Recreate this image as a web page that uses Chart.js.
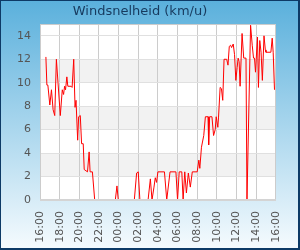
<!DOCTYPE html>
<html lang="nl">
<head>
  <meta charset="UTF-8" />
  <title>Windsnelheid</title>
  <script src="https://cdn.jsdelivr.net/npm/chart.js"></script>
  <style>
    * { box-sizing: border-box; }
    html, body { margin: 0; padding: 0; }
    #wrap {
      position: relative;
      width: 300px;
      height: 250px;
      overflow: hidden;
      background: linear-gradient(#5ab0dc, #f6fbfe);
    }
    #wrap canvas { position: absolute; top: 0; left: 0; }
    #rand {
      position: absolute; top: 0; left: 0; width: 300px; height: 250px;
      border: 1px solid #0d3a66; border-right-width: 2px; border-bottom-width: 2px;
      pointer-events: none;
    }
  </style>
</head>
<body>
  <div id="wrap">
    <canvas id="grafiek" width="300" height="250"></canvas>
    <div id="rand"></div>
  </div>

  <script>
    // tijdstippen (16:00 -> 16:00 volgende dag) en windsnelheid in km/u
    const tijden = [
      "16:36","16:42","16:48","17:00","17:10","17:20","17:30","17:40","17:50","18:04",
      "18:16","18:24","18:30","18:36","18:44","18:50","19:10","19:16","19:26","19:34",
      "19:40","19:50","19:56","20:06","20:14","20:24","20:30","20:50","21:00","21:06",
      "21:20","21:34","23:40","23:50","23:58","01:36","01:50","02:00","02:10","03:00",
      "03:14","03:24","03:36","03:44","03:52","04:00","04:40","04:54","05:14","05:50",
      "06:00","06:10","06:26","06:34","06:44","06:54","07:06","07:18","07:30","08:00",
      "08:10","08:16","08:26","08:40","08:50","09:06","09:10","09:16","09:30","09:40",
      "09:50","09:56","10:06","10:10","10:20","10:28","10:36","10:44","11:00","11:08",
      "11:16","11:24","11:30","11:40","11:48","11:56","12:04","12:10","12:16","12:22",
      "12:34","12:44","12:58","13:04","13:26","13:36","13:44","13:50","13:56","14:08",
      "14:14","14:22","14:30","14:38","14:48","14:56","15:00","15:30","15:38","15:44",
      "15:52"
    ];
    const snelheid = [
      12.2, 9.8, 9.8, 8.1, 9.4, 7.7, 7.2, 12.0, 10.0, 7.2,
      9.4, 9.0, 9.7, 9.4, 10.5, 9.7, 9.7, 9.6, 12.0, 7.9,
      8.5, 5.1, 7.1, 7.2, 4.8, 4.8, 2.6, 2.4, 4.1, 2.4,
      2.4, 0, 0, 1.2, 0, 0, 2.3, 2.4, 0, 0,
      1.8, 0, 1.1, 1.9, 1.5, 2.4, 2.4, 0, 2.4, 2.4,
      0, 2.4, 2.4, 0, 2.4, 0.6, 2.3, 1.1, 2.4, 2.4,
      3.4, 2.7, 4.5, 5.5, 7.1, 7.1, 4.7, 7.1, 7.1, 5.5,
      6.0, 7.1, 6.2, 7.0, 9.6, 9.5, 8.5, 12.0, 12.0, 11.5,
      13.1, 13.2, 13.0, 13.3, 12.4, 10.2, 11.3, 12.1, 11.8, 9.7,
      14.2, 12.1, 12.1, 0, 14.9, 13.2, 12.1, 12.1, 10.9, 13.9,
      9.6, 13.6, 12.6, 10.2, 14.0, 12.8, 12.6, 12.6, 13.8, 12.6,
      9.4
    ];
    const tijdLabels = ["16:00","18:00","20:00","22:00","00:00","02:00","04:00",
                        "06:00","08:00","10:00","12:00","14:00","16:00"];
    const banden = [[2, 4], [6, 8], [10, 12]];

    // minuten sinds 16:00
    function minuten(t) {
      const [u, m] = t.split(":").map(Number);
      let v = u * 60 + m;
      if (v < 960) v += 1440;
      return v - 960;
    }

    const punten = tijden.map((t, i) => ({ x: minuten(t), y: snelheid[i] }));

    const achtergrond = {
      id: "achtergrond",
      beforeDraw(chart) {
        const { ctx, chartArea: a, scales } = chart;
        ctx.save();
        ctx.fillStyle = "#ffffff";
        ctx.fillRect(a.left, a.top, a.right - a.left, a.bottom - a.top);
        ctx.fillStyle = "#f2f2f2";
        banden.forEach(([v1, v2]) => {
          const y1 = scales.y.getPixelForValue(v2);
          const y2 = scales.y.getPixelForValue(v1);
          ctx.fillRect(a.left, y1, a.right - a.left, y2 - y1);
        });
        ctx.restore();
      },
      afterDatasetsDraw(chart) {
        const { ctx, chartArea: a } = chart;
        ctx.save();
        ctx.strokeStyle = "#cccccc";
        ctx.lineWidth = 1;
        ctx.strokeRect(Math.round(a.left) + 0.5, Math.round(a.top) + 0.5,
                       Math.round(a.right - a.left) - 1, Math.round(a.bottom - a.top));
        // onderrand dekt de nullijn af
        ctx.fillStyle = "#d4d4d4";
        ctx.fillRect(Math.round(a.left), Math.round(a.bottom) - 1, Math.round(a.right - a.left), 2);
        ctx.restore();
      }
    };

    Chart.defaults.font.family = "'DejaVu Sans', sans-serif";

    new Chart(document.getElementById("grafiek"), {
      type: "line",
      data: {
        datasets: [{
          label: "Windsnelheid",
          data: punten,
          borderColor: "#ff0000",
          borderWidth: 1,
          pointRadius: 0,
          tension: 0,
          fill: false
        }]
      },
      options: {
        responsive: false,
        animation: false,
        layout: { padding: { left: 0, right: 20, top: 0, bottom: 0 } },
        plugins: {
          legend: { display: false },
          tooltip: { enabled: false },
          title: {
            display: true,
            text: "Windsnelheid (km/u)",
            color: "#173a5e",
            font: { size: 13, weight: "normal" },
            padding: { top: 4, bottom: 4.5 }
          }
        },
        scales: {
          x: {
            type: "linear",
            min: 0,
            max: 1440,
            afterFit: s => { s.height = 50; },
            ticks: {
              stepSize: 120,
              minRotation: 90,
              maxRotation: 90,
              padding: 11,
              color: "#555555",
              font: { size: 11 },
              callback: (v, i) => tijdLabels[i]
            },
            grid: { color: "#cccccc", drawTicks: false },
            border: { display: false }
          },
          y: {
            min: 0,
            max: 15,
            afterFit: s => { s.width = 40; },
            ticks: {
              stepSize: 2,
              includeBounds: false,
              padding: 9,
              color: "#555555",
              font: { size: 11 }
            },
            grid: { color: "#e0e0e0", drawTicks: false },
            border: { display: false }
          }
        }
      },
      plugins: [achtergrond]
    });
  </script>
</body>
</html>
